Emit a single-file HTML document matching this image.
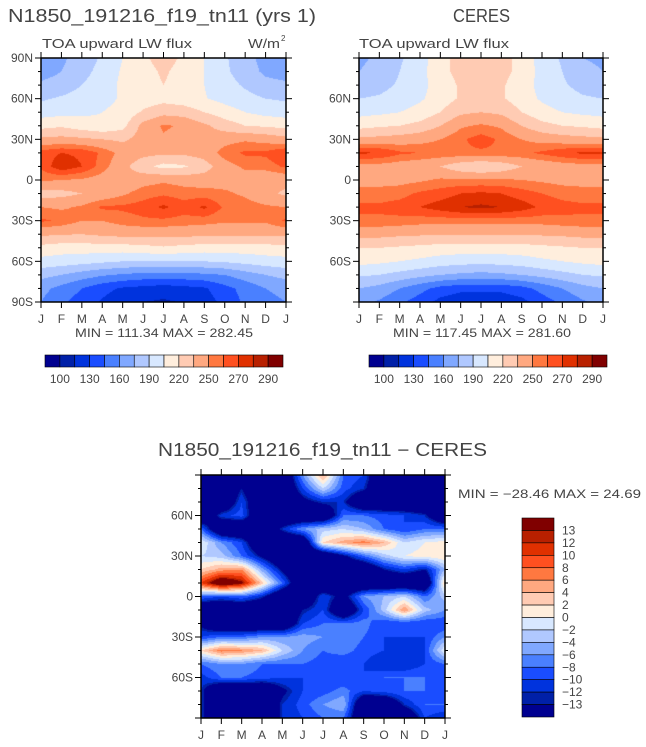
<!DOCTYPE html>
<html><head><meta charset="utf-8"><style>
body{margin:0;background:#fff;width:646px;height:747px;overflow:hidden;position:relative;font-family:"Liberation Sans",sans-serif}
canvas{position:absolute}
svg{position:absolute;left:0;top:0}
</style></head><body>
<canvas id="c1" width="245" height="244" style="left:41px;top:58px"></canvas>
<canvas id="c2" width="244" height="244" style="left:359px;top:58px"></canvas>
<canvas id="c3" width="244" height="243" style="left:201px;top:475px"></canvas>
<svg id="ov" width="646" height="747"></svg>
<script>
const months=["J","F","M","A","M","J","J","A","S","O","N","D","J"];
const lats=[90,80,70,60,50,40,30,20,10,0,-10,-20,-30,-40,-50,-60,-70,-80,-90];
const levelsAbs=[100,115,130,145,160,175,190,205,220,235,250,260,270,280,290];
const levelsDiff=[-13,-12,-10,-8,-6,-4,-2,0,2,4,6,8,10,12,13];
const absLabels=["100","130","160","190","220","250","270","290"];
const diffLabels=["13","12","10","8","6","4","2","0","\u22122","\u22124","\u22126","\u22128","\u221210","\u221212","\u221213"];
const colors=["#000090","#0020a8","#0033dd","#1a4dff","#4a80ff","#80a8ff","#b0c8ff","#d8e8ff","#ffeedd","#ffcbb3","#ffa880","#ff7840","#ff5020","#e03000","#b82000","#800000"];
const modelVals=[
[165,172,182,192,205,218,225,218,205,192,180,170,165],
[168,175,185,195,207,215,222,215,205,193,182,172,168],
[178,182,190,198,208,214,220,214,205,196,188,180,178],
[188,192,196,200,207,212,215,212,206,200,195,190,188],
[198,200,202,205,210,222,230,228,220,212,205,200,198],
[215,218,212,208,215,240,252,248,238,228,220,218,215],
[238,240,238,235,232,242,248,245,240,245,248,245,240],
[265,270,268,258,245,240,238,238,242,255,262,262,270],
[262,278,270,255,240,225,215,218,228,245,252,255,262],
[252,250,248,244,240,245,248,245,243,245,245,238,240],
[228,230,235,240,248,255,258,255,255,252,248,240,232],
[250,248,252,262,262,265,272,265,272,258,255,252,250],
[262,258,250,250,255,258,258,256,255,252,252,252,262],
[238,236,235,238,240,240,240,240,238,238,238,238,238],
[215,212,212,213,213,215,218,215,213,213,213,214,215],
[200,198,196,193,190,190,190,190,190,192,195,198,200],
[180,175,168,162,158,155,155,155,157,160,168,175,180],
[165,155,145,135,128,125,122,125,128,140,150,160,165],
[160,148,138,128,120,115,113,116,122,135,148,155,160]];
const ceresVals=[
[172,178,188,198,215,225,228,225,215,198,188,175,172],
[175,180,190,200,215,225,228,225,215,200,190,180,175],
[182,185,192,200,212,222,225,222,212,200,192,185,182],
[190,192,197,203,212,222,225,222,212,203,197,192,190],
[200,202,205,210,220,232,235,232,220,210,205,202,200],
[215,218,220,225,235,248,252,248,235,225,220,218,215],
[238,240,242,245,250,258,265,258,250,245,242,240,238],
[272,270,262,260,258,258,258,258,258,262,268,272,272],
[245,245,243,240,235,225,220,225,235,240,243,245,245],
[245,245,246,248,252,252,252,252,250,248,246,245,245],
[255,255,256,262,265,270,272,270,265,260,256,255,255],
[262,262,265,270,275,280,282,280,275,268,264,262,262],
[258,258,257,255,255,255,255,255,255,255,257,258,258],
[240,240,238,237,236,236,236,236,236,237,238,240,240],
[220,220,218,216,214,213,213,213,214,216,218,220,220],
[210,208,205,202,198,196,195,196,198,202,205,208,210],
[192,190,185,180,175,172,170,172,175,180,185,190,192],
[175,170,160,150,140,135,135,135,140,150,160,170,175],
[165,158,148,138,125,118,118,118,125,138,148,158,165]];
const diffVals=[
[-20,-20,-15,-20,-20,-6,5,-8,-10,-20,-20,-20,-20],
[-20,-20,-13,-20,-20,-10,-2,-9,-12,-20,-20,-20,-20],
[-20,-20,-10,-20,-20,-15,-12,-12,-20,-20,-20,-20,-20],
[-20,-11,-9,-20,-20,-20,-20,-8,-8,-9,-10,-12,-20],
[-8,-20,-20,-20,-12,-6,-3,-2,-4,-8,-10,-8,-8],
[0,-6,-10,-20,-20,-20,2,5,7,4,-2,0,1],
[-2,-3,-8,-14,-20,-20,-20,-14,-8,-3,0,1,2],
[2,5,6,-5,-14,-20,-20,-20,-20,-13,-10,-13,-4],
[10,18,14,3,-8,-20,-20,-20,-20,-20,-20,-20,3],
[-8,-10,-8,-12,-20,-20,-10,-15,-6,-4,-2,-8,-3],
[-20,-20,-20,-20,-20,-13,-10,-20,-10,-3,6,-3,-6],
[-14,-20,-20,-20,-20,-10,-8,-8,-7,-10,-10,-10,-10],
[-10,-8,-8,-6,-6,-5,-6,-6,-8,-10,-10,-10,-6],
[2,7,6,4,-2,-6,-8,-7,-9,-10,-12,-10,0],
[-8,-6,-6,-8,-8,-8,-9,-10,-10,-12,-12,-10,-8],
[-11,-8,-8,-9,-10,-10,-10,-10,-10,-8,-8,-8,-10],
[-12,-20,-20,-20,-14,-10,-9,-7,-10,-9,-8,-8,-10],
[-12,-20,-20,-20,-12,-9,-6,-4,-20,-20,-12,-8,-8],
[-12,-20,-20,-20,-12,-10,-8,-8,-20,-20,-20,-10,-12]];

function colorFor(v,lev){let i=0;while(i<lev.length&&v>=lev[i])i++;return colors[i];}
function sample(grid,fx,fy){
  const x0=Math.min(Math.floor(fx),11),y0=Math.min(Math.floor(fy),17);
  const tx=fx-x0,ty=fy-y0;
  const a=grid[y0][x0],b=grid[y0][x0+1],c=grid[y0+1][x0],d=grid[y0+1][x0+1];
  return (a*(1-tx)+b*tx)*(1-ty)+(c*(1-tx)+d*tx)*ty;
}
function drawField(id,grid,lev){
  const cv=document.getElementById(id),ctx=cv.getContext('2d');
  const W=cv.width,H=cv.height;
  for(let py=0;py<H;py++){
    const lat=90-(py+0.5)/H*180;
    const fy=(90-lat)/10;
    for(let px=0;px<W;px++){
      const fx=(px+0.5)/W*12;
      ctx.fillStyle=colorFor(sample(grid,fx,fy),lev);
      ctx.fillRect(px,py,1,1);
    }
  }
}
drawField('c1',modelVals,levelsAbs);
drawField('c2',ceresVals,levelsAbs);
drawField('c3',diffVals,levelsDiff);

const ov=document.getElementById('ov');const NS="http://www.w3.org/2000/svg";
function el(tag,attrs,txt){const e=document.createElementNS(NS,tag);for(const k in attrs)e.setAttribute(k,attrs[k]);if(txt!==undefined)e.textContent=txt;ov.appendChild(e);return e;}
function txt(x,y,s,size,anchor,name,len){const a={x:x,y:y,'font-size':size,'text-anchor':anchor||'start',fill:'#444','font-family':'Liberation Sans, sans-serif'};
  if(len){a.textLength=len;a.lengthAdjust='spacingAndGlyphs';}
  const t=el('text',a,s);

return t;}
function axes(x,y,w,h,latLabels,pre){
  const r=el('rect',{x:x,y:y,width:w,height:h,fill:'none',stroke:'#000','stroke-width':1.5});
  
  
  const xs=m=>x+m/12*w, ys=lat=>y+(90-lat)/180*h;
  months.forEach((m,i)=>{
    const X=xs(i);
    el('line',{x1:X,y1:y,x2:X,y2:y-6,stroke:'#000'});
    el('line',{x1:X,y1:y+h,x2:X,y2:y+h+6,stroke:'#000'});
    txt(X,y+h+21,m,12,'middle',pre+'-x-tick-label');
  });
  lats.forEach(l=>{
    const Y=ys(l),maj=l%30===0,len=maj?6:3;
    el('line',{x1:x,y1:Y,x2:x-len,y2:Y,stroke:'#000'});
    el('line',{x1:x+w,y1:Y,x2:x+w+len,y2:Y,stroke:'#000'});
    if(maj&&latLabels.indexOf(l)>=0){
      const s=l===0?"0":(Math.abs(l)+(l>0?"N":"S"));
      txt(x-8,Y+4,s,12,'end',pre+'-y-tick-label');
    }
  });
}
axes(41,58,245,244,[90,60,30,0,-30,-60,-90],'model');
axes(359,58,244,244,[60,30,0,-30,-60],'ceres');
axes(201,475,244,243,[60,30,0,-30,-60],'diff');

txt(8,22,"N1850_191216_f19_tn11 (yrs 1)",18,'start','model-title',308);
txt(42,48,"TOA upward LW flux",13,'start','model-subtitle',150);
txt(248,48,"W/m",13,'start','model-units',32);
txt(281,41,"2",8,'start','units-superscript');
txt(453,22,"CERES",18,'start','ceres-title',57);
txt(359,48,"TOA upward LW flux",13,'start','ceres-subtitle',150);
txt(75,337,"MIN = 111.34 MAX = 282.45",12,'start','model-min-max',178);
txt(393,337,"MIN = 117.45 MAX = 281.60",12,'start','ceres-min-max',178);
txt(158,456,"N1850_191216_f19_tn11 \u2212 CERES",18,'start','diff-title',329);
txt(458,498,"MIN = \u221228.46 MAX =  24.69",12,'start','diff-min-max',183);

function hbar(x0,x1,y,pre){
  const bw=(x1-x0)/16;
  colors.forEach((c,i)=>{const r=el('rect',{x:x0+i*bw,y:y,width:bw,height:12,fill:c,stroke:'#000','stroke-width':0.6});
    
    });
  absLabels.forEach((s,k)=>txt(x0+(2*k+1)*bw,y+28,s,12,'middle',pre+'-colorbar-label'));
}
hbar(45,283,355,'model');
hbar(369,607,355,'ceres');
const vy0=518,vy1=717,vh=(vy1-vy0)/16;
colors.slice().reverse().forEach((c,i)=>{const r=el('rect',{x:522,y:vy0+i*vh,width:32,height:vh,fill:c,stroke:'#000','stroke-width':0.6});
  
  });
diffLabels.forEach((s,k)=>txt(562,vy0+(k+1)*vh+4,s,12,'start','diff-colorbar-label'));
</script>
</body></html>
